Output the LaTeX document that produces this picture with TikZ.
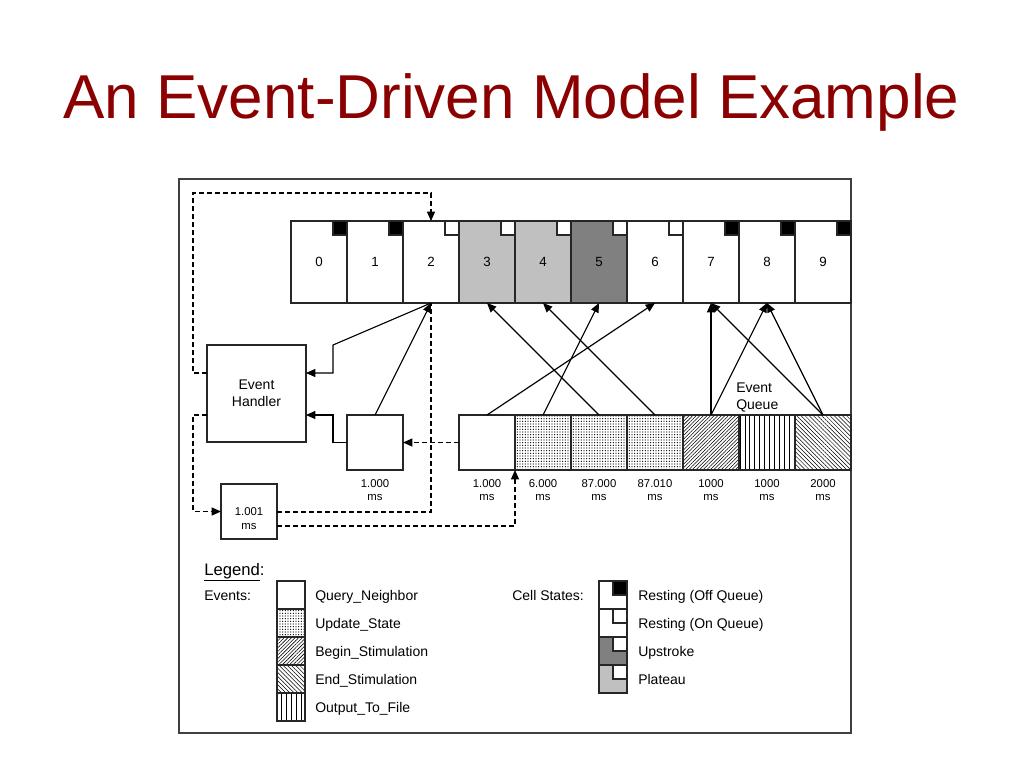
\documentclass[tikz,border=0pt]{standalone}
\usepackage{fontspec}
\setmainfont{Liberation Sans}
\usetikzlibrary{arrows.meta,patterns.meta,calc}
\definecolor{titlered}{RGB}{139,0,0}
\definecolor{lgray}{RGB}{192,192,192}
\definecolor{dgray}{RGB}{128,128,128}
\begin{document}
\begin{tikzpicture}[x=0.75pt,y=-0.75pt,
  basebox/.style={draw=black!85,line width=0.8pt,inner sep=0pt,outer sep=0pt},
  cell/.style={basebox,minimum width=42pt,minimum height=61.5pt,font=\fontsize{10}{12}\selectfont},
  qbox/.style={basebox,minimum width=42pt,minimum height=41.25pt},
  lbox/.style={basebox,minimum width=21pt,minimum height=21pt},
  ind/.style={draw=black!85,line width=0.8pt},
  dotpat/.style={pattern={Dots[radius=0.48pt,distance=2pt]}},
  nepat/.style={pattern={Lines[angle=45,distance=1.9pt,line width=0.42pt]}},
  nwpat/.style={pattern={Lines[angle=-45,distance=2.2pt,line width=0.38pt]}},
  vpat/.style={pattern={Lines[angle=90,distance=3.7pt,line width=0.65pt]}},
  conn/.style={line width=0.85pt,-{Triangle[length=7pt,width=6pt]}},
  dashedline/.style={line width=0.85pt,dash pattern=on 3.75pt off 2.25pt},
  lbl/.style={font=\fontsize{10.5}{12.5}\selectfont,inner sep=0pt},
  qlbl/.style={font=\fontsize{8.5}{10}\selectfont,align=center,inner sep=0pt}
]
\useasboundingbox (0,0) rectangle (1024,768);
\fill[white] (0,0) rectangle (1024,768);

% title
\node[anchor=base,text=titlered,font=\fontsize{46.5}{56}\selectfont,inner sep=0pt] (title) at (511.5,118) {An Event-Driven Model Example};

% frame
\draw[black!75,line width=0.8pt] (179,179) rectangle (851,733);

% cells
\node[cell] (c0) at (319,262) {0};
\node[cell] (c1) at (375,262) {1};
\node[cell] (c2) at (431,262) {2};
\node[cell,fill=lgray] (c3) at (487,262) {3};
\node[cell,fill=lgray] (c4) at (543,262) {4};
\node[cell,fill=dgray] (c5) at (599,262) {5};
\node[cell] (c6) at (655,262) {6};
\node[cell] (c7) at (711,262) {7};
\node[cell] (c8) at (767,262) {8};
\node[cell] (c9) at (823,262) {9};
\foreach \c in {c0,c1,c7,c8,c9}{\draw[ind,fill=black] (\c.north east) rectangle ++(-14,14);}
\foreach \c in {c2,c3,c4,c5,c6}{\draw[ind,fill=white] (\c.north east) rectangle ++(-14,14);}

% event handler and boxes
\node[basebox,minimum width=74.25pt,minimum height=72.75pt,align=center,font=\fontsize{10.5}{12.75}\selectfont] (eh) at (256.5,393.5) {Event\\Handler};
\node[qbox] (rm) at (375,442.5) {};
\node[qlbl] (rmlbl) at (375,490) {1.000\\ms};
\node[qbox] (nb) at (249,511.5) {};
\node[qlbl] (nblbl) at (249,518.5) {1.001\\ms};

% queue
\node[qbox,fill=white] (q1) at (487,442.5) {};
\node[qbox,dotpat] (q2) at (543,442.5) {};
\node[qbox,dotpat] (q3) at (599,442.5) {};
\node[qbox,dotpat] (q4) at (655,442.5) {};
\node[qbox,nepat] (q5) at (711,442.5) {};
\node[qbox,vpat] (q6) at (767,442.5) {};
\node[qbox,nwpat] (q7) at (823,442.5) {};
\node[qlbl] (l1) at (487,490) {1.000\\ms};
\node[qlbl] (l2) at (543,490) {6.000\\ms};
\node[qlbl] (l3) at (599,490) {87.000\\ms};
\node[qlbl] (l4) at (655,490) {87.010\\ms};
\node[qlbl] (l5) at (711,490) {1000\\ms};
\node[qlbl] (l6) at (767,490) {1000\\ms};
\node[qlbl] (l7) at (823,490) {2000\\ms};
\node[font=\fontsize{10.5}{12.75}\selectfont,align=left,anchor=west,inner sep=0pt] (eq) at (736,397) {Event\\Queue};

% solid connectors
\draw[conn] (q1.north) -- (c6.south);
\draw[conn] (q2.north) -- (c5.south);
\draw[conn] (q3.north) -- (c3.south);
\draw[conn] (q4.north) -- (c4.south);
\draw[conn] (q5.north) -- (c7.south);
\draw[conn] (q5.north) -- (c8.south);
\draw[conn] (q7.north) -- (c7.south);
\draw[conn] (q7.north) -- (c8.south);
\draw[conn] (rm.north) -- (c2.south);
\coordinate (b1) at (333,345);
\coordinate (b2) at (333,373);
\coordinate (b3) at (333,442.5);
\draw[conn] (c2.south) -- (b1) -- (b2) -- (eh.east |- b2);
\draw[conn] (rm.west) -- (b3) |- (eh.east |- 0,415);

% dashed connectors
\coordinate (d1) at (193,373);
\coordinate (d2) at (193,415);
\draw[dashedline,conn] (eh.west |- d1) -- (d1) |- (431,193) -- (c2.north);
\draw[dashedline,conn] (eh.west |- d2) -- (d2) |- (nb.west);
\draw[dashedline] (nb.east |- 0,512) -| (c2.south);
\draw[dashedline,conn] (nb.east |- 0,526) -| (q1.south east);
\draw[dashedline,conn] (q1.west) -- (rm.east);

% legend
\node[anchor=base west,font=\fontsize{12.5}{15}\selectfont,inner sep=0pt] (lg) at (204,575) {\underline{Legend}:};
\node[lbl,anchor=base west] (evs) at (204,600) {Events:};
\node[lbox,fill=white] (e1) at (291,595) {};
\node[lbox,dotpat] (e2) at (291,623) {};
\node[lbox,nepat] (e3) at (291,651) {};
\node[lbox,nwpat] (e4) at (291,679) {};
\node[lbox,vpat] (e5) at (291,707) {};
\node[lbl,anchor=base west] (et1) at (315,600) {Query\_Neighbor};
\node[lbl,anchor=base west] (et2) at (315,628) {Update\_State};
\node[lbl,anchor=base west] (et3) at (315,656) {Begin\_Stimulation};
\node[lbl,anchor=base west] (et4) at (315,684) {End\_Stimulation};
\node[lbl,anchor=base west] (et5) at (315,712) {Output\_To\_File};

\node[lbl,anchor=base west] (cs) at (512,600) {Cell States:};
\node[lbox,fill=white] (s1) at (613,595) {};
\node[lbox,fill=white] (s2) at (613,623) {};
\node[lbox,fill=dgray] (s3) at (613,651) {};
\node[lbox,fill=lgray] (s4) at (613,679) {};
\draw[ind,fill=black] (s1.north east) rectangle ++(-14,14);
\foreach \c in {s2,s3,s4}{\draw[ind,fill=white] (\c.north east) rectangle ++(-14,14);}
\node[lbl,anchor=base west] (st1) at (638,600) {Resting (Off Queue)};
\node[lbl,anchor=base west] (st2) at (638,628) {Resting (On Queue)};
\node[lbl,anchor=base west] (st3) at (638,656) {Upstroke};
\node[lbl,anchor=base west] (st4) at (638,684) {Plateau};
\end{tikzpicture}
\end{document}
